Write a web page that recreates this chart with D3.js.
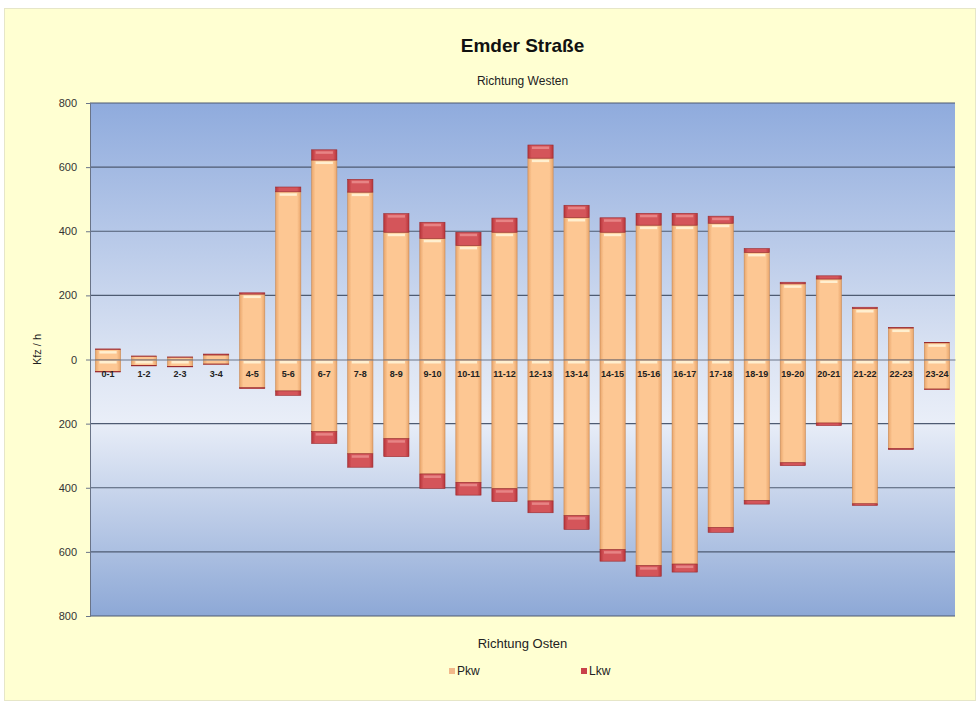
<!DOCTYPE html>
<html>
<head>
<meta charset="utf-8">
<script src="https://cdn.jsdelivr.net/npm/d3@7"></script>
<style>
  body { margin: 0; background: #fff; }
  text { font-family: "Liberation Sans", Arial, sans-serif; }
</style>
</head>
<body>
<div id="chart"></div>
<script>
/* DATA */
const hours = ["0-1","1-2","2-3","3-4","4-5","5-6","6-7","7-8","8-9","9-10","10-11","11-12",
               "12-13","13-14","14-15","15-16","16-17","17-18","18-19","19-20","20-21","21-22","22-23","23-24"];
// Richtung Westen (positive)
const westPkw = [31,10,7,14,204,523,622,522,397,378,356,397,628,443,397,419,419,425,334,236,251,159,98,52];
const westLkw = [2,1,1,3,4,15,32,40,58,50,41,44,41,38,45,37,37,22,12,5,10,4,2,1];
// Richtung Osten (drawn below zero)
const ostPkw = [37,19,22,14,88,98,225,294,247,357,383,403,441,487,593,643,638,524,440,322,198,450,277,92];
const ostLkw = [2,1,1,1,3,14,37,42,56,45,40,40,37,43,36,33,25,15,11,9,8,5,4,2];
const yTicks = [-800,-600,-400,-200,0,200,400,600,800];

/* CONFIGURATION */
const W = 978, H = 705;
const plot = { left: 90, right: 955, top: 103, bottom: 616 };

const svg = d3.select("#chart").append("svg")
    .attr("width", W).attr("height", H);
const defs = svg.append("defs");

// background gradient of the plot area
const bg = defs.append("linearGradient").attr("id", "bg")
    .attr("x1", 0).attr("y1", 0).attr("x2", 0).attr("y2", 1);
bg.append("stop").attr("offset", "0%").attr("stop-color", "#8FABDD");
bg.append("stop").attr("offset", "50%").attr("stop-color", "#DCE4F3");
bg.append("stop").attr("offset", "62%").attr("stop-color", "#E9EEF8");
bg.append("stop").attr("offset", "100%").attr("stop-color", "#8DA8D6");

// bar shading (horizontal bevel)
function barGrad(id, edge, mid) {
    const g = defs.append("linearGradient").attr("id", id)
        .attr("x1", 0).attr("y1", 0).attr("x2", 1).attr("y2", 0);
    g.append("stop").attr("offset", "0%").attr("stop-color", edge);
    g.append("stop").attr("offset", "15%").attr("stop-color", mid);
    g.append("stop").attr("offset", "85%").attr("stop-color", mid);
    g.append("stop").attr("offset", "100%").attr("stop-color", edge);
}
barGrad("pkw", "#E9A66C", "#FDC793");
barGrad("lkw", "#B8353A", "#D4555A");

// outer frame
svg.append("rect")
    .attr("x", 4.5).attr("y", 8.5).attr("width", 971).attr("height", 692)
    .attr("fill", "#FFFFD2").attr("stroke", "#E6E6C8");

/* SCALES */
const x = d3.scaleBand().domain(hours)
    .range([plot.left, plot.right]).paddingInner(0.3).paddingOuter(0.15);
const y = d3.scaleLinear().domain([-800, 800]).range([plot.bottom, plot.top]);

svg.append("rect")
    .attr("x", plot.left).attr("y", plot.top)
    .attr("width", plot.right - plot.left).attr("height", plot.bottom - plot.top)
    .attr("fill", "url(#bg)");

// gridlines
svg.append("g").selectAll("line").data(yTicks.filter(d => d !== 0)).join("line")
    .attr("x1", plot.left).attr("x2", plot.right)
    .attr("y1", d => y(d)).attr("y2", d => y(d))
    .attr("stroke", "#4E5B72").attr("stroke-width", 1.2);

// y axis
const yAxis = svg.append("g")
    .attr("transform", `translate(${plot.left},0)`)
    .call(d3.axisLeft(y).tickValues(yTicks).tickSize(4).tickFormat(d => Math.abs(d)));
yAxis.select(".domain").attr("stroke", "#6A7488");
yAxis.selectAll(".tick line").attr("stroke", "#6A7488");
yAxis.selectAll(".tick text").attr("font-size", 11).attr("fill", "#333")
    .attr("font-family", "Liberation Sans, Arial, sans-serif").attr("dx", -6);

/* BARS */
const segments = [];
hours.forEach((h, i) => {
    segments.push({ h, y0: 0, y1: westPkw[i], type: "pkw", dir: 1 });
    segments.push({ h, y0: westPkw[i], y1: westPkw[i] + westLkw[i], type: "lkw", dir: 1 });
    segments.push({ h, y0: 0, y1: -ostPkw[i], type: "pkw", dir: -1 });
    segments.push({ h, y0: -ostPkw[i], y1: -(ostPkw[i] + ostLkw[i]), type: "lkw", dir: -1 });
});

const seg = svg.append("g").selectAll("g").data(segments).join("g");
seg.append("rect")
    .attr("x", d => x(d.h))
    .attr("y", d => y(Math.max(d.y0, d.y1)))
    .attr("width", x.bandwidth())
    .attr("height", d => Math.abs(y(d.y0) - y(d.y1)))
    .attr("fill", d => `url(#${d.type})`)
    .attr("stroke", d => d.type === "pkw" ? "#C98A55" : "#9A2A2E")
    .attr("stroke-width", 0.6);
// highlight strip at the top of each segment
seg.filter(d => Math.abs(y(d.y0) - y(d.y1)) > 5).append("rect")
    .attr("x", d => x(d.h) + 4)
    .attr("y", d => y(Math.max(d.y0, d.y1)) + 1.5)
    .attr("width", x.bandwidth() - 8)
    .attr("height", 2.5)
    .attr("fill", d => d.type === "pkw" ? "#FFF3D6" : "#E98A8A")
    .attr("opacity", 0.9);

// zero axis with category labels
const xAxis = svg.append("g")
    .attr("transform", `translate(0,${y(0)})`)
    .call(d3.axisBottom(x).tickSize(0).tickPadding(11));
xAxis.select(".domain").attr("stroke", "#6A7488");
xAxis.selectAll(".tick text").attr("font-size", 9).attr("font-weight", "bold")
    .attr("fill", "#222").attr("font-family", "Liberation Sans, Arial, sans-serif");

/* TEXTS */
const cx = (plot.left + plot.right) / 2;
svg.append("text").attr("x", cx).attr("y", 52).attr("text-anchor", "middle")
    .attr("font-size", 19).attr("font-weight", "bold").attr("fill", "#111").text("Emder Straße");
svg.append("text").attr("x", cx).attr("y", 85).attr("text-anchor", "middle")
    .attr("font-size", 12).attr("fill", "#222").text("Richtung Westen");
svg.append("text").attr("x", cx).attr("y", 648).attr("text-anchor", "middle")
    .attr("font-size", 13).attr("fill", "#222").text("Richtung Osten");
svg.append("text").attr("transform", `translate(41,${(plot.top + plot.bottom) / 2 - 10}) rotate(-90)`)
    .attr("text-anchor", "middle").attr("font-size", 11).attr("fill", "#222").text("Kfz / h");

/* LEGEND */
const legendItems = [
    { label: "Pkw", color: "#F2B98A", x: 449 },
    { label: "Lkw", color: "#C8414A", x: 581 }
];
const legend = svg.append("g").selectAll("g").data(legendItems).join("g")
    .attr("transform", d => `translate(${d.x},671)`);
legend.append("rect").attr("x", 0).attr("y", -3).attr("width", 6).attr("height", 6)
    .attr("fill", d => d.color);
legend.append("text").attr("x", 8).attr("y", 4).attr("font-size", 12).attr("fill", "#222")
    .text(d => d.label);
</script>
</body>
</html>
